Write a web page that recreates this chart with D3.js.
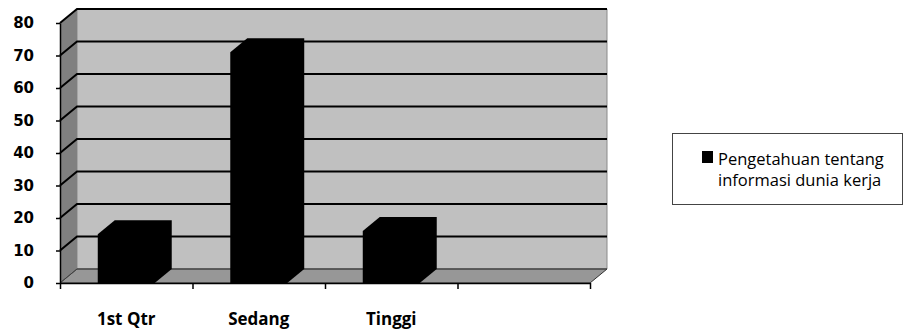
<!DOCTYPE html>
<html>
<head>
<meta charset="utf-8">
<script src="https://cdn.jsdelivr.net/npm/d3@7"></script>
<style>
	body { margin: 0; background: #fff; }
</style>
</head>
<body>
<div class="chart"></div>
<script>
const categories = ["1st Qtr", "Sedang", "Tinggi", ""];
const values = [15, 71, 16, null];
const yTicks = [0, 10, 20, 30, 40, 50, 60, 70, 80];
const legendLines = ["Pengetahuan tentang", "informasi dunia kerja"];

const W = 904, H = 331;
const plot = { left: 60, right: 590, top: 23, bottom: 283 };
const depth = { dx: 17, dy: -14 };

const svg = d3.select(".chart").append("svg").attr("width", W).attr("height", H);

const x = d3.scaleBand().domain(categories).range([plot.left, plot.right]);
const y = d3.scaleLinear().domain([0, 80]).range([plot.bottom, plot.top]);
const xEdge = d3.scaleLinear().domain([0, categories.length]).range([plot.left, plot.right]);

const pts = (arr) => arr.map((p) => p.join(",")).join(" ");

// walls
const y0 = y(0), yTop = y(80);
svg.append("polygon")
	.attr("points", pts([[plot.left + depth.dx, yTop + depth.dy], [plot.right + depth.dx, yTop + depth.dy], [plot.right + depth.dx, y0 + depth.dy], [plot.left + depth.dx, y0 + depth.dy]]))
	.attr("fill", "#c0c0c0")
	.attr("stroke", "#8a8a8a")
	.attr("stroke-width", 1);
svg.append("polygon")
	.attr("points", pts([[plot.left, y0], [plot.left, yTop], [plot.left + depth.dx, yTop + depth.dy], [plot.left + depth.dx, y0 + depth.dy]]))
	.attr("fill", "#808080");
svg.append("polygon")
	.attr("points", pts([[plot.left, y0], [plot.left + depth.dx, y0 + depth.dy], [plot.right + depth.dx, y0 + depth.dy], [plot.right, y0]]))
	.attr("fill", "#979797")
	.attr("stroke", "#333")
	.attr("stroke-width", 1);

// gridlines
const grid = svg.append("g").attr("fill", "none");
grid.selectAll("polyline")
	.data(yTicks)
	.join("polyline")
	.attr("points", (d) => pts([[plot.left, y(d)], [plot.left + depth.dx, y(d) + depth.dy], [plot.right + depth.dx, y(d) + depth.dy]]))
	.attr("stroke-width", (d) => (d === 0 ? 0.8 : 2))
	.attr("stroke", (d) => (d === 0 ? "#444" : "#000"));

// bars
const barW = x.bandwidth() * 0.43;
const bars = svg.append("g");
categories.forEach((c, i) => {
	const v = values[i];
	if (v == null) return;
	const x0 = x(c) + (x.bandwidth() - barW) / 2, x1 = x0 + barW;
	const yt = y(v);
	bars.append("polygon")
		.attr("points", pts([[x0, y0], [x0, yt], [x0 + depth.dx, yt + depth.dy], [x1 + depth.dx, yt + depth.dy], [x1 + depth.dx, y0 + depth.dy], [x1, y0]]))
		.attr("fill", "#000");
});

// y axis
svg.append("g")
	.attr("transform", `translate(${plot.left},0)`)
	.call(d3.axisLeft(y).tickValues(yTicks).tickSize(4).tickSizeOuter(0).tickPadding(22))
	.call((g) => g.select(".domain").attr("stroke-width", 1.5))
	.call((g) => g.selectAll(".tick line").attr("stroke-width", 1.5))
	.call((g) => g.selectAll("text")
		.style("font", "bold 15px 'DejaVu Sans'")
		.attr("fill", "#000"));

// x axis ticks at band edges
svg.append("g")
	.attr("transform", `translate(0,${y0})`)
	.call(d3.axisBottom(xEdge).tickValues(d3.range(categories.length + 1)).tickFormat("").tickSize(6).tickSizeOuter(0))
	.call((g) => g.select(".domain").attr("stroke-width", 1.5))
	.call((g) => g.selectAll(".tick line").attr("stroke-width", 1.5));

// x labels
svg.append("g")
	.attr("transform", `translate(0,${y0})`)
	.call(d3.axisBottom(x).tickSize(0).tickPadding(30))
	.call((g) => g.select(".domain").remove())
	.call((g) => g.selectAll("text")
		.style("font", "bold 17px 'Open Sans'")
		.attr("fill", "#000"));

// legend
const legend = svg.append("g");
legend.append("rect")
	.attr("x", 672.5).attr("y", 133.5)
	.attr("width", 230).attr("height", 71)
	.attr("fill", "#fff")
	.attr("stroke", "#444")
	.attr("stroke-width", 1);
legend.append("rect")
	.attr("x", 702).attr("y", 151)
	.attr("width", 11).attr("height", 12)
	.attr("fill", "#000");
legend.selectAll("text.lg")
	.data(legendLines)
	.join("text")
	.attr("class", "lg")
	.attr("x", 718)
	.attr("y", (d, i) => 165 + i * 21)
	.style("font", "16.5px 'Open Sans'")
	.attr("fill", "#000")
	.text((d) => d);
</script>
</body>
</html>
